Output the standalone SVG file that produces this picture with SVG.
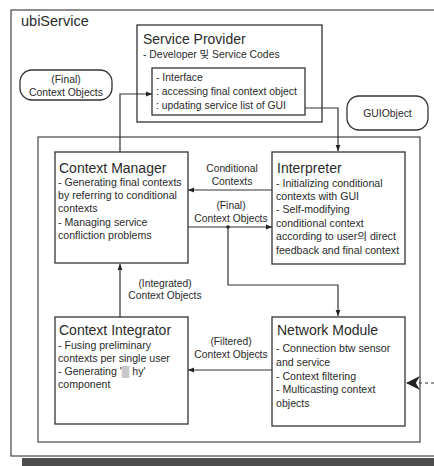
<svg xmlns="http://www.w3.org/2000/svg" width="434" height="466" viewBox="0 0 434 466">
<style>
text{font-family:"Liberation Sans","Noto Sans CJK KR",Arial,sans-serif;fill:#2a2a2a}
.box{fill:#fff;stroke:#333;stroke-width:1.3}
.frame{fill:none;stroke:#444;stroke-width:1.2}
.t{font-size:14px}
.b{font-size:10.6px}
.s{font-size:10.4px}
.c{font-size:10.3px;text-anchor:middle}
.ln{fill:none;stroke:#333;stroke-width:1.2}
</style>
<defs>
<marker id="ah" viewBox="0 0 10 10" refX="10" refY="5" markerWidth="6" markerHeight="6" orient="auto" markerUnits="userSpaceOnUse">
<path d="M0,1 L10,5 L0,9 Z" fill="#222"/>
</marker>
<marker id="big" viewBox="0 0 10 10" refX="10" refY="5" markerWidth="14" markerHeight="14" orient="auto" markerUnits="userSpaceOnUse">
<path d="M0,0 L10,5 L0,10 L3,5 Z" fill="#222"/>
</marker>
</defs>
<rect width="434" height="466" fill="#fff"/>
<g id="ubiService">
<rect class="frame" x="11" y="10" width="440" height="446"/>
<text class="t" x="21" y="26" style="font-size:14.5px">ubiService</text>
<rect class="frame" x="38" y="137" width="382" height="305"/>
<rect x="22" y="458" width="412" height="8" fill="#4d4d4d"/>
</g>
<g id="service-provider">
<rect class="box" x="137" y="25" width="185" height="97"/>
<text class="t" x="143" y="44">Service Provider</text>
<text class="s" x="143" y="58">- Developer 및 Service Codes</text>
<rect class="box" x="152" y="68" width="153" height="47"/>
<text class="s" x="156" y="81">- Interface</text>
<text class="s" x="156" y="95">: accessing final context object</text>
<text class="s" x="156" y="109">: updating service list of GUI</text>
</g>
<g id="final-context-objects">
<rect class="box" x="20" y="70" width="92" height="30" rx="12"/>
<text class="s" x="66" y="83" text-anchor="middle">(Final)</text>
<text class="s" x="66" y="96" text-anchor="middle">Context Objects</text>
</g>
<g id="gui-object">
<rect class="box" x="347" y="96" width="81" height="34" rx="12"/>
<text class="s" x="387.5" y="117" text-anchor="middle">GUIObject</text>
</g>
<g id="context-manager">
<rect class="box" x="55" y="152" width="133" height="111"/>
<text class="t" x="59" y="173">Context Manager</text>
<text class="b" x="58" y="186">- Generating final contexts</text>
<text class="b" x="58" y="199">by referring to conditional</text>
<text class="b" x="58" y="212">contexts</text>
<text class="b" x="58" y="226">- Managing service</text>
<text class="b" x="58" y="239">confliction problems</text>
</g>
<g id="interpreter">
<rect class="box" x="272" y="152" width="133" height="112"/>
<text class="t" x="277" y="173">Interpreter</text>
<text class="b" x="276" y="187">- Initializing conditional</text>
<text class="b" x="276" y="200">contexts with GUI</text>
<text class="b" x="276" y="213">- Self-modifying</text>
<text class="b" x="276" y="227">conditional context</text>
<text class="b" x="276" y="240">according to user의 direct</text>
<text class="b" x="276" y="254">feedback and final context</text>
</g>
<g id="context-integrator">
<rect class="box" x="55" y="317" width="133" height="107"/>
<text class="t" x="59" y="335">Context Integrator</text>
<text class="b" x="58" y="349">- Fusing preliminary</text>
<text class="b" x="58" y="362">contexts per single user</text>
<text class="b" x="58" y="375">- Generating '▒ hy'</text>
<text class="b" x="58" y="388">component</text>
</g>
<g id="network-module">
<rect class="box" x="272" y="317" width="133" height="109"/>
<text class="t" x="277" y="335">Network Module</text>
<text class="b" x="276" y="352">- Connection btw sensor</text>
<text class="b" x="276" y="366">and service</text>
<text class="b" x="276" y="380">- Context filtering</text>
<text class="b" x="276" y="393">- Multicasting context</text>
<text class="b" x="276" y="407">objects</text>
</g>
<g id="connectors">
<polyline class="ln" points="120,152 120,94 152,94" marker-end="url(#ah)"/>
<polyline class="ln" points="305,108 338,108 338,151" marker-end="url(#ah)"/>
<line class="ln" x1="272" y1="190" x2="188" y2="190" marker-end="url(#ah)"/>
<text class="c" x="232" y="172">Conditional</text>
<text class="c" x="232" y="185">Contexts</text>
<line class="ln" x1="188" y1="227" x2="272" y2="227" marker-end="url(#ah)"/>
<text class="c" x="231" y="209">(Final)</text>
<text class="c" x="231" y="222">Context Objects</text>
<circle cx="228" cy="227" r="1.8" fill="#222"/>
<polyline class="ln" points="228,227 228,285 338,285 338,316" marker-end="url(#ah)"/>
<line class="ln" x1="120" y1="317" x2="120" y2="264" marker-end="url(#ah)"/>
<text class="c" x="165" y="287">(Integrated)</text>
<text class="c" x="165" y="299">Context Objects</text>
<line class="ln" x1="272" y1="370" x2="188" y2="370" marker-end="url(#ah)"/>
<text class="c" x="231" y="345">(Filtered)</text>
<text class="c" x="231" y="358">Context Objects</text>
<line class="ln" x1="434" y1="383" x2="406" y2="383" stroke-dasharray="3,3" marker-end="url(#big)"/>
</g>
</svg>
